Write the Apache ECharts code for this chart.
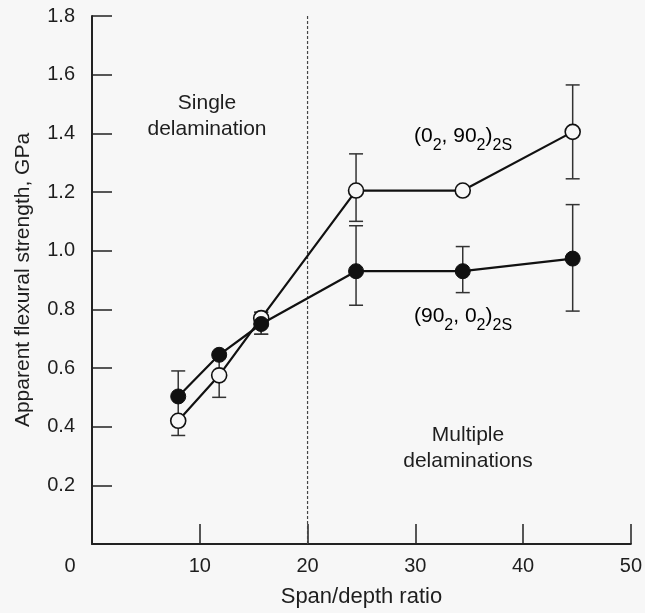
<!DOCTYPE html>
<html>
<head>
<meta charset="utf-8">
<script src="https://cdn.jsdelivr.net/npm/echarts@6/dist/echarts.min.js"></script>
<style>
html,body{margin:0;padding:0;background:#f7f7f7;}
#c{width:645px;height:613px;}
</style>
</head>
<body>
<div id="c"></div>
<script>
// ---- data ----
var spanDepth = [8, 11.8, 15.7, 24.5, 34.4, 44.6];
var strength_0_90 = [0.42, 0.575, 0.77, 1.205, 1.205, 1.405];   // open circles (0_2, 90_2)2S
var strength_90_0 = [0.503, 0.645, 0.75, 0.93, 0.93, 0.973];   // filled circles (90_2, 0_2)2S
// error bar ranges [low, high] (null = none visible)
var err_0_90 = [[0.37, 0.42], [0.50, 0.645], [0.715, 0.79], [1.10, 1.33], null, [1.245, 1.565]];
var err_90_0 = [[0.42, 0.59], null, [0.715, 0.79], [0.814, 1.085], [0.857, 1.014], [0.794, 1.157]];
var transitionX = 20;
var xTicks = [0, 10, 20, 30, 40, 50];
var yTicks = [0, 0.2, 0.4, 0.6, 0.8, 1.0, 1.2, 1.4, 1.6, 1.8];

var FONT = '"Liberation Sans", Arial, Helvetica, sans-serif';
var TXT = '#1e1e1e';

function pts(ys) { return spanDepth.map(function (x, i) { return [x, ys[i]]; }); }
function errData(errs) {
  var out = [];
  errs.forEach(function (e, i) { if (e) out.push([spanDepth[i], e[0], e[1]]); });
  return out;
}
function errRender(params, api) {
  var x = api.value(0);
  var lo = api.coord([x, api.value(1)]);
  var hi = api.coord([x, api.value(2)]);
  var w = 7;
  var st = { stroke: '#333', lineWidth: 1.5 };
  return {
    type: 'group',
    children: [
      { type: 'line', shape: { x1: lo[0], y1: lo[1], x2: hi[0], y2: hi[1] }, style: st },
      { type: 'line', shape: { x1: lo[0] - w, y1: lo[1], x2: lo[0] + w, y2: lo[1] }, style: st },
      { type: 'line', shape: { x1: hi[0] - w, y1: hi[1], x2: hi[0] + w, y2: hi[1] }, style: st }
    ]
  };
}

var chart = echarts.init(document.getElementById('c'), null, { renderer: 'canvas' });

var rich = {
  n: { fontSize: 21, fontFamily: FONT, color: TXT, lineHeight: 25, verticalAlign: 'top' },
  s: { fontSize: 16, fontFamily: FONT, color: TXT, lineHeight: 16, padding: [12, 0, 0, 0], verticalAlign: 'top' }
};

var option = {
  backgroundColor: '#f7f7f7',
  animation: false,
  textStyle: { fontFamily: FONT },
  grid: { left: 92, right: 13, top: 16, bottom: 68, containLabel: false },
  xAxis: {
    type: 'value', min: xTicks[0], max: xTicks[xTicks.length - 1], interval: 10,
    name: 'Span/depth ratio', nameLocation: 'middle', nameGap: 42,
    nameTextStyle: { fontSize: 22, color: TXT, fontFamily: FONT },
    axisLine: { lineStyle: { color: '#222', width: 2 } },
    axisTick: { inside: true, length: 20, lineStyle: { color: '#222', width: 1.5 } },
    axisLabel: {
      fontSize: 20, color: TXT, fontFamily: FONT, margin: 12,
      formatter: function (v) { return v === 0 ? '{z|0}' : String(v); },
      rich: { z: { fontSize: 20, color: TXT, fontFamily: FONT, padding: [0, 44, 0, 0] } }
    },
    splitLine: { show: false }
  },
  yAxis: {
    type: 'value', min: yTicks[0], max: yTicks[yTicks.length - 1], interval: 0.2,
    name: 'Apparent flexural strength, GPa', nameLocation: 'middle', nameGap: 58, nameRotate: 90,
    nameTextStyle: { fontSize: 21, color: TXT, fontFamily: FONT },
    axisLine: { lineStyle: { color: '#222', width: 2 } },
    axisTick: { inside: true, length: 20, lineStyle: { color: '#222', width: 1.5 } },
    axisLabel: {
      fontSize: 20, color: TXT, fontFamily: FONT, margin: 17,
      formatter: function (v) { return v === 0 ? '' : v.toFixed(1); }
    },
    splitLine: { show: false }
  },
  graphic: [
    { type: 'text', x: 207, y: 90, style: { text: 'Single\ndelamination', fill: TXT, font: '21px ' + FONT, align: 'center', lineHeight: 26 } },
    { type: 'text', x: 468, y: 422, style: { text: 'Multiple\ndelaminations', fill: TXT, font: '21px ' + FONT, align: 'center', lineHeight: 26 } },
    { type: 'text', x: 414, y: 126, style: { text: '{n|(0}{s|2}{n|, 90}{s|2}{n|)}{s|2S}', rich: rich } },
    { type: 'text', x: 414, y: 306, style: { text: '{n|(90}{s|2}{n|, 0}{s|2}{n|)}{s|2S}', rich: rich } }
  ],
  series: [
    {
      name: 'transition', type: 'line', data: [[transitionX, yTicks[0]], [transitionX, yTicks[yTicks.length - 1]]],
      symbol: 'none', lineStyle: { color: '#444', width: 1.2, type: [3, 2] }, z: 1, silent: true
    },
    { name: 'err_0_90', type: 'custom', renderItem: errRender, data: errData(err_0_90), z: 2, silent: true },
    { name: 'err_90_0', type: 'custom', renderItem: errRender, data: errData(err_90_0), z: 2, silent: true },
    {
      name: '(0_2, 90_2)2S', type: 'line', data: pts(strength_0_90),
      symbol: 'circle', symbolSize: 15,
      lineStyle: { color: '#111', width: 2.2 },
      itemStyle: { color: '#f7f7f7', borderColor: '#111', borderWidth: 1.6 },
      z: 3
    },
    {
      name: '(90_2, 0_2)2S', type: 'line', data: pts(strength_90_0),
      symbol: 'circle', symbolSize: 15,
      lineStyle: { color: '#111', width: 2.2 },
      itemStyle: { color: '#111', borderColor: '#111', borderWidth: 1 },
      z: 4
    }
  ]
};
chart.setOption(option);
</script>
</body>
</html>
